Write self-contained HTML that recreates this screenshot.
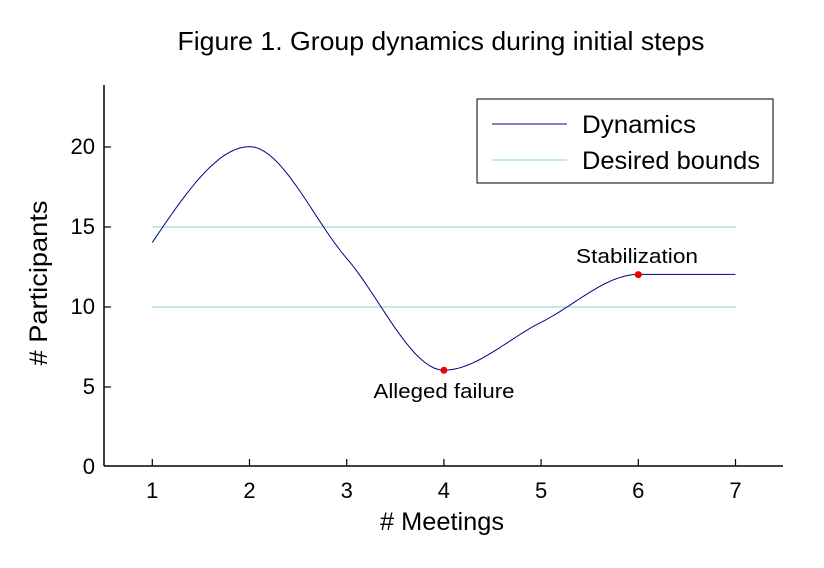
<!DOCTYPE html>
<html><head><meta charset="utf-8"><style>body{margin:0;background:#fff}svg{display:block}text{font-family:"Liberation Sans",Arial,sans-serif}</style></head>
<body>
<svg id="s" width="824" height="568" viewBox="0 0 824 568" xmlns="http://www.w3.org/2000/svg">
<rect width="824" height="568" fill="#fff"/>
<text x="441" y="50" font-size="26" text-anchor="middle" textLength="527" lengthAdjust="spacingAndGlyphs">Figure 1. Group dynamics during initial steps</text>
<g stroke="#000" stroke-width="1.5" fill="none">
<line x1="104" y1="85" x2="104" y2="466"/>
<line x1="104" y1="466" x2="783" y2="466"/>
</g>
<g stroke="#000" stroke-width="1.2">
<line x1="152.3" y1="466" x2="152.3" y2="459"/><line x1="249.5" y1="466" x2="249.5" y2="459"/><line x1="346.7" y1="466" x2="346.7" y2="459"/><line x1="443.9" y1="466" x2="443.9" y2="459"/><line x1="541.1" y1="466" x2="541.1" y2="459"/><line x1="638.3" y1="466" x2="638.3" y2="459"/><line x1="735.5" y1="466" x2="735.5" y2="459"/>
<line x1="104" y1="387" x2="111" y2="387"/><line x1="104" y1="307" x2="111" y2="307"/><line x1="104" y1="227" x2="111" y2="227"/><line x1="104" y1="147" x2="111" y2="147"/>
</g>
<g font-size="22" text-anchor="middle">
<text x="152.3" y="498">1</text><text x="249.5" y="498">2</text><text x="346.7" y="498">3</text><text x="443.9" y="498">4</text><text x="541.1" y="498">5</text><text x="638.3" y="498">6</text><text x="735.5" y="498">7</text>
</g>
<g font-size="22" text-anchor="end">
<text x="95" y="474">0</text><text x="95" y="394">5</text><text x="95" y="314">10</text><text x="95" y="234">15</text><text x="95" y="154">20</text>
</g>
<text x="442" y="530" font-size="25" text-anchor="middle" textLength="124" lengthAdjust="spacingAndGlyphs"># Meetings</text>
<text transform="translate(47,283) rotate(-90)" font-size="25" text-anchor="middle" textLength="165" lengthAdjust="spacingAndGlyphs"># Participants</text>
<line x1="152.3" y1="227" x2="735.5" y2="227" stroke="#7fd4c0" stroke-width="1"/>
<line x1="152.3" y1="307" x2="735.5" y2="307" stroke="#7fd4c0" stroke-width="1"/>
<path id="c" fill="none" stroke="#00008b" stroke-width="1"/>
<circle cx="443.9" cy="370.3" r="3.5" fill="#e00"/>
<circle cx="638.3" cy="274.6" r="3.5" fill="#e00"/>
<text x="444" y="398" font-size="20" text-anchor="middle" textLength="141" lengthAdjust="spacingAndGlyphs">Alleged failure</text>
<text x="637" y="263" font-size="20" text-anchor="middle" textLength="122" lengthAdjust="spacingAndGlyphs">Stabilization</text>
<rect x="477" y="99" width="296" height="84" fill="#fff" stroke="#000" stroke-width="1"/>
<line x1="492" y1="124" x2="567" y2="124" stroke="#00008b"/>
<line x1="492" y1="160" x2="567" y2="160" stroke="#7fd4c0"/>
<text x="582" y="133" font-size="25" textLength="114" lengthAdjust="spacingAndGlyphs">Dynamics</text>
<text x="582" y="169" font-size="25" textLength="178" lengthAdjust="spacingAndGlyphs">Desired bounds</text>
</svg>
<script>
var xs=[1,2,3,4,5,6,7],ys=[14,20,13,6,9,12,12],n=7,d=[],m=[];
for(var i=0;i<n-1;i++)d.push(ys[i+1]-ys[i]);
for(i=0;i<n;i++){if(i==0)m.push(d[0]);else if(i==n-1)m.push(d[n-2]);else m.push(d[i-1]*d[i]<=0?0:2/(1/d[i-1]+1/d[i]));}
m[0]=(3*d[0]-m[1])/2;if(m[0]*d[0]<0)m[0]=0;m[n-1]=0;
function px(x){return 152.3+(x-1)*97.2}function py(y){return 466-y*15.97}
var p="M"+px(1)+","+py(14);
for(i=0;i<n-1;i++){for(var k=1;k<=20;k++){var t=k/20,h00=2*t*t*t-3*t*t+1,h10=t*t*t-2*t*t+t,h01=-2*t*t*t+3*t*t,h11=t*t*t-t*t;var y=h00*ys[i]+h10*m[i]+h01*ys[i+1]+h11*m[i+1];p+="L"+px(xs[i]+t).toFixed(1)+","+py(y).toFixed(1);}}
document.getElementById("c").setAttribute("d",p);
</script>
</body></html>
